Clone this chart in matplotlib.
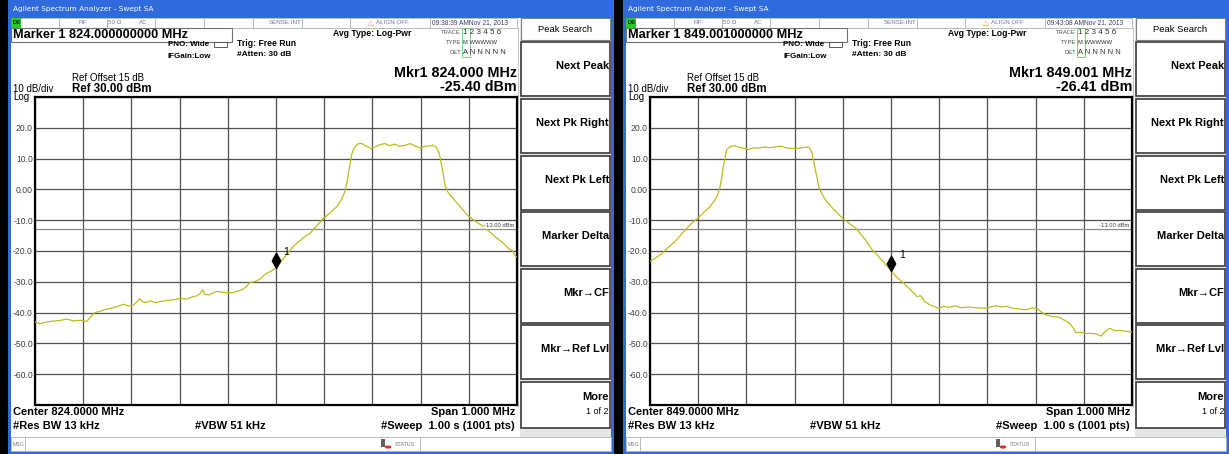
import numpy as np
import matplotlib.pyplot as plt
from matplotlib.patches import Rectangle
from matplotlib.path import Path

plt.rcParams['font.family'] = ['Liberation Sans', 'DejaVu Sans']

# trace readings, offset from center frequency (kHz) and level (dBm)
left_offset_khz = [-500, -490, -480, -465, -450, -434, -420, -405, -393, -385, -376, -365, -353,
                   -340, -325, -317, -305, -296, -288, -283, -277, -271, -260, -250, -241, -225,
                   -210, -199, -185, -175, -165, -158, -152, -148, -140, -130, -123, -110, -100,
                   -89, -78, -68, -60, -54, -45, -33, -25, -19, -10, 0, 10, 20, 29, 36, 50, 60,
                   71, 85, 99, 113, 127, 137, 143, 147, 150, 154, 157, 162, 170, 178, 188, 198,
                   208, 218, 226, 236, 246, 256, 264, 272, 278, 288, 299, 310, 320, 326, 333,
                   339, 344, 348, 351, 357, 364, 380, 396, 413, 430, 445, 458, 470, 478, 485,
                   490, 496, 500]
left_dbm = [-43.0, -43.6, -43.2, -42.8, -42.6, -42.1, -42.7, -42.5, -42.9, -41.5, -40.0, -39.6,
            -38.9, -38.5, -37.8, -37.3, -37.9, -37.6, -36.4, -35.5, -36.5, -36.7, -36.2, -36.8,
            -36.4, -36.0, -35.8, -35.4, -35.6, -35.0, -34.6, -33.9, -32.6, -34.0, -34.3, -33.6,
            -33.1, -33.4, -33.6, -33.5, -33.0, -32.4, -31.3, -30.2, -30.0, -29.1, -27.9, -27.2,
            -26.5, -25.4, -23.6, -21.5, -19.8, -18.5, -16.6, -15.3, -14.2, -11.7, -9.3, -7.5,
            -5.5, -3.0, -0.6, 2.0, 4.8, 8.5, 11.3, 13.6, 14.8, 14.9, 14.0, 13.2, 14.0, 14.6,
            14.9, 14.2, 14.7, 14.0, 14.2, 14.5, 14.9, 14.1, 13.5, 14.0, 14.1, 14.4, 13.6, 11.5,
            7.5, 4.0, 1.0, -1.0, -2.3, -5.2, -8.2, -10.3, -12.0, -14.0, -15.8, -17.2, -18.5,
            -19.5, -19.8, -21.5, -22.0]

right_offset_khz = [-500, -488, -476, -462, -448, -430, -413, -400, -386, -375, -365, -359, -355,
                    -351, -348, -344, -341, -334, -324, -315, -305, -296, -285, -275, -261, -250,
                    -238, -227, -215, -199, -185, -171, -167, -164, -160, -157, -153, -150, -143,
                    -136, -120, -101, -87, -73, -55, -39, -20, 0, 12, 26, 40, 54, 62, 70, 81, 99,
                    110, 120, 133, 145, 163, 180, 197, 210, 218, 230, 240, 252, 265, 280, 292,
                    304, 312, 321, 335, 349, 360, 370, 378, 384, 395, 405, 412, 425, 436, 445,
                    454, 465, 475, 488, 500]
right_dbm = [-23.4, -22.2, -20.9, -18.8, -16.9, -13.7, -10.9, -9.2, -7.1, -5.5, -3.4, -1.5, 0.5,
             4.0, 7.5, 10.5, 12.9, 13.9, 14.2, 13.6, 13.4, 12.9, 13.5, 13.4, 13.8, 13.5, 13.9,
             14.0, 13.4, 13.2, 13.5, 13.8, 13.0, 11.8, 9.0, 6.4, 3.5, 0.8, -1.5, -3.4, -6.3,
             -9.3, -11.0, -12.6, -16.0, -19.6, -22.8, -26.4, -28.5, -30.4, -32.5, -34.8, -34.5,
             -36.5, -37.5, -38.6, -38.0, -38.3, -37.8, -38.4, -38.2, -38.5, -38.6, -38.0, -37.8,
             -38.2, -37.9, -38.6, -38.8, -39.1, -38.5, -38.7, -39.8, -40.7, -41.3, -41.5, -42.5,
             -43.4, -45.0, -46.5, -46.4, -46.8, -46.7, -46.9, -47.6, -46.0, -45.1, -45.9, -45.8,
             -46.1, -46.3]

centers_mhz = [824.0, 849.0]
marker_mhz = [824.000, 849.001]
marker_dbm = [-25.40, -26.41]
clock = ['09:38:39 AMNov 21, 2013', '09:43:08 AMNov 21, 2013']
display_line = -13.0
ref_level = 30.0
ytick_vals = [-70, -60, -50, -40, -30, -20, -10, 0, 10, 20, 30]
ytick_text = ['', '-60.0', '-50.0', '-40.0', '-30.0', '-20.0', '-10.0', '0.00', '10.0', '20.0', '']
softkeys = ['Next Peak', 'Next Pk Right', 'Next Pk Left', 'Marker Delta',
            'Mkr\u2192CF', 'Mkr\u2192Ref Lvl']

W, H = 1229, 454
fig = plt.figure(figsize=(W / 100, H / 100), dpi=100, facecolor='black')

BLUE = '#2f6bdc'
TRACE = '#bcbc1e'


def box(x, y, w, h, **kw):
    fig.add_artist(Rectangle((x / W, 1 - (y + h) / H), w / W, h / H,
                             transform=fig.transFigure, **kw))


def txt(x, y, s, size=7, bold=False, ha='left', color='black', **kw):
    fig.text(x / W, 1 - y / H, s, fontsize=size, ha=ha, va='center', color=color,
             fontweight='bold' if bold else 'normal', **kw)


def draw_panel(ox, i, offs, dbm):
    center = centers_mhz[i]
    # window frame
    box(ox + 8, 0, 606, H, facecolor=BLUE, edgecolor='none')
    box(ox + 11, 18, 600, 433, facecolor='white', edgecolor='none')
    txt(ox + 13, 9, 'Agilent Spectrum Analyzer - Swept SA', size=5.3, color='white',
        family='DejaVu Sans')

    # status row
    box(ox + 11, 18, 506, 10, facecolor='white', edgecolor='#b0b0b0', lw=0.6)
    box(ox + 11, 18.5, 10, 9, facecolor='#22cc22', edgecolor='none')
    txt(ox + 16, 23, 'LXI', size=3.5, bold=True, ha='center')
    for sx in [59, 107, 155, 204, 253, 302, 350, 430]:
        box(ox + sx, 18, 0.1, 10, facecolor='none', edgecolor='#b0b0b0', lw=0.6)
    grey = '#7a7a7a'
    txt(ox + 83, 23, 'RF', size=4.5, color=grey, ha='center')
    txt(ox + 115, 23, '50 \u03a9', size=4.5, color=grey, ha='center')
    txt(ox + 143, 23, 'AC', size=4.5, color=grey, ha='center')
    txt(ox + 285, 23, 'SENSE:INT', size=4.5, color=grey, ha='center')
    txt(ox + 370, 23, '\u26a0', size=6, color='#e0b000', ha='center', family='DejaVu Sans')
    txt(ox + 376, 23, 'ALIGN OFF', size=4.5, color=grey)
    txt(ox + 432, 23, clock[i], size=4.8, color='#404040')

    # marker header
    box(ox + 11, 28, 221, 14, facecolor='white', edgecolor='#707070', lw=0.8)
    txt(ox + 13, 35, 'Marker 1 %.9f MHz' % marker_mhz[i], size=9.2, bold=True)
    txt(ox + 168, 45, 'PNO: Wide', size=5.8, bold=True)
    box(ox + 214, 42, 13, 5, facecolor='white', edgecolor='#404040', lw=0.6)
    txt(ox + 168, 56, 'IFGain:Low', size=5.8, bold=True)
    txt(ox + 237, 44, 'Trig: Free Run', size=6.2, bold=True)
    txt(ox + 237, 54, '#Atten: 30 dB', size=6.0, bold=True)
    txt(ox + 333, 33, 'Avg Type: Log-Pwr', size=6.2, bold=True)
    txt(ox + 461, 33, 'TRACE', size=4.2, color='#505050', ha='right')
    txt(ox + 461, 42, 'TYPE', size=4.2, color='#505050', ha='right')
    txt(ox + 461, 52, 'DET', size=4.2, color='#505050', ha='right')
    box(ox + 462, 28, 8, 29, facecolor='none', edgecolor='#66cc66', lw=0.6)
    txt(ox + 463, 33, '1 2 3 4 5 6', size=5.8, color='#303030')
    txt(ox + 463, 42, 'M WWWWW', size=4.2, color='#303030')
    txt(ox + 463, 52, 'A N N N N N', size=5.4, color='#303030')

    txt(ox + 517, 73, 'Mkr1 %.3f MHz' % marker_mhz[i], size=10.3, bold=True, ha='right')
    txt(ox + 517, 87, '%.2f dBm' % marker_dbm[i], size=10.3, bold=True, ha='right')
    txt(ox + 72, 78, 'Ref Offset 15 dB', size=7)
    txt(ox + 72, 89, 'Ref %.2f dBm' % ref_level, size=8.3, bold=True)
    txt(ox + 13, 89, '10 dB/div', size=7)
    txt(ox + 13, 97, 'Log', size=7)

    # graticule
    ax = fig.add_axes([(ox + 35) / W, 1 - 405 / H, 482 / W, 308 / H])
    ax.set_zorder(2)
    ax.set_facecolor('white')
    ax.plot(center + np.array(offs) / 1000.0, dbm, color=TRACE, lw=0.9, zorder=3)
    ax.axhline(display_line, color='#8a8a8a', lw=0.9, zorder=2)
    ax.text(0.995, display_line + 0.4, '-13.00 dBm', transform=ax.get_yaxis_transform(),
            fontsize=4.2, ha='right', va='bottom', color='#404040', zorder=4,
            bbox=dict(facecolor='white', edgecolor='none', pad=0.3))
    ax.set_xlim(center - 0.5, center + 0.5)
    ax.set_ylim(-70, 30)
    ax.set_xticks(center + np.arange(-5, 6) / 10.0)
    ax.set_xticklabels([])
    ax.set_yticks(ytick_vals)
    ax.set_yticklabels(ytick_text, fontsize=6.2, color='#404040')
    ax.tick_params(length=0, pad=1.5)
    ax.grid(True, color='#505050', lw=0.9)
    ax.set_axisbelow(True)
    for sp in ax.spines.values():
        sp.set_linewidth(1.6)

    # marker diamond, bottom tip on the trace
    dia = Path([(0, 0), (0.55, 1), (0, 2), (-0.55, 1), (0, 0)])
    ax.plot([marker_mhz[i]], [marker_dbm[i]], marker=dia, markersize=22, color='black',
            linestyle='none', zorder=5)
    ax.annotate('1', (marker_mhz[i], marker_dbm[i]), xytext=(5.5, 11),
                textcoords='offset points', fontsize=7.5, va='center', zorder=5)

    # footer
    txt(ox + 13, 412, 'Center %.4f MHz' % center, size=8, bold=True)
    txt(ox + 13, 426, '#Res BW 13 kHz', size=8, bold=True)
    txt(ox + 195, 426, '#VBW 51 kHz', size=8, bold=True)
    txt(ox + 515, 412, 'Span 1.000 MHz', size=8, bold=True, ha='right')
    txt(ox + 515, 426, '#Sweep  1.00 s (1001 pts)', size=8, bold=True, ha='right')

    # message bar
    box(ox + 11, 437, 600, 14, facecolor='white', edgecolor='#b0b0b0', lw=0.6)
    box(ox + 25, 437, 0.1, 14, facecolor='none', edgecolor='#b0b0b0', lw=0.6)
    box(ox + 420, 437, 0.1, 14, facecolor='none', edgecolor='#b0b0b0', lw=0.6)
    txt(ox + 13, 444, 'MSG', size=3.8, color=grey)
    box(ox + 381, 439, 4, 8, facecolor='#606060', edgecolor='none')
    fig.add_artist(plt.Circle(((ox + 388) / W, 1 - 447 / H), 2.5 / W, color='#e03030',
                              transform=fig.transFigure))
    txt(ox + 395, 444, 'STATUS', size=3.8, color=grey)

    # softkey column
    box(ox + 518, 28, 1, 380, facecolor='#c8c8c8', edgecolor='none')
    box(ox + 520, 18, 91, 419, facecolor='#e6e6e6', edgecolor='none')
    box(ox + 521, 18, 89, 22, facecolor='white', edgecolor='#808080', lw=0.8)
    txt(ox + 565, 29, 'Peak Search', size=6.8, ha='center')
    tops = [42, 99, 156, 212, 269, 325, 382]
    for k, top in enumerate(tops):
        hgt = 46 if k == len(tops) - 1 else 54
        box(ox + 521, top, 89, hgt, facecolor='white', edgecolor='#3a3a3a', lw=1.2)
        if k < len(softkeys):
            txt(ox + 609, top + 24, softkeys[k], size=8, bold=True, ha='right',
                family=['Liberation Sans', 'DejaVu Sans'])
    txt(ox + 609, 397, 'More', size=8, bold=True, ha='right')
    txt(ox + 609, 411, '1 of 2', size=6.5, ha='right')


draw_panel(0, 0, left_offset_khz, left_dbm)
draw_panel(615, 1, right_offset_khz, right_dbm)

fig.savefig('out.png', dpi=100, facecolor='black')
